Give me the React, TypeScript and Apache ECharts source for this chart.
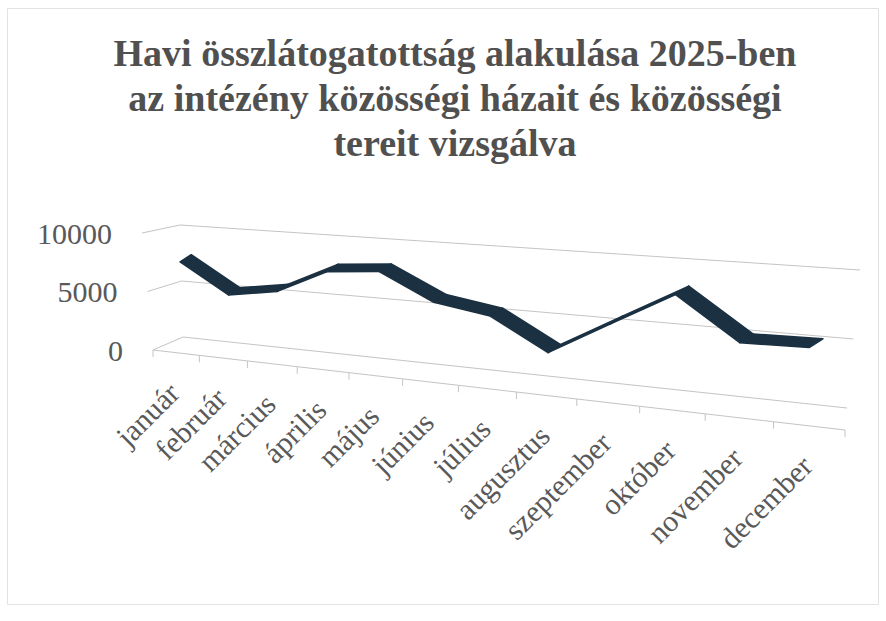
import React, { useEffect, useRef } from "react";
import * as echarts from "echarts";

// ---- data ----
const months = [
  "január", "február", "március", "április", "május", "június",
  "július", "augusztus", "szeptember", "október", "november", "december",
];
const visitors = [7600, 5100, 5750, 7750, 8100, 6000, 5300, 2900, 5500, 8100, 5000, 5100];
const valueTicks = [0, 5000, 10000];
const valueMax = 10000;
const titleLines = [
  "Havi összlátogatottság alakulása 2025-ben",
  "az intézény közösségi házait és közösségi",
  "tereit vizsgálva",
];

// ---- layout of the 3D box on the page (value=0 / value=max) ----
const box = {
  frontLeft: [[153, 350], [142, 233]],
  backLeft: [[183, 337], [180, 225]],
  frontRight: [[845, 430], [855, 283]],
  backRight: [[847, 408], [860, 270]],
};
const depthRatio = 0.79; // far (left) / near (right) distance ratio
const ribbonDepth = [11, -7];
const ribbonColor = "#1b3142";
const gridColor = "#c4c4c4";
const labelColor = "#595959";
const serif = "'Liberation Serif', 'Times New Roman', serif";

type P = number[];
const lerp = (a: P, b: P, k: number): P => [a[0] + (b[0] - a[0]) * k, a[1] + (b[1] - a[1]) * k];
const persp = (t: number) => (t * depthRatio) / (1 - t + t * depthRatio);
const scaleAt = (t: number) => 1 / (1 - t + t * depthRatio);
function project(t: number, w: number, d: number): P {
  const L = lerp(lerp(box.frontLeft[0], box.frontLeft[1], w), lerp(box.backLeft[0], box.backLeft[1], w), d);
  const R = lerp(lerp(box.frontRight[0], box.frontRight[1], w), lerp(box.backRight[0], box.backRight[1], w), d);
  return lerp(L, R, persp(t));
}
function norm(params: any, api: any, u: number, v: number): P {
  const p = api.coord([u, v]);
  const cs = params.coordSys;
  return [(p[0] - cs.x) / cs.width, (cs.y + cs.height - p[1]) / cs.height];
}

export default function App() {
  const ref = useRef<HTMLDivElement>(null);
  useEffect(() => {
    if (!ref.current) return;
    const chart = echarts.init(ref.current, undefined, { renderer: "svg" });
    const n = months.length;
    const boundaries = Array.from({ length: n + 1 }, (_, k) => [k, 0]);
    const segments = visitors.slice(0, -1).map((v, i) => [i + 0.5, v, i + 1.5, visitors[i + 1]]);
    const labelData = months.map((_, i) => [i + 0.5, 0]);

    chart.setOption({
      animation: false,
      backgroundColor: "#ffffff",
      title: {
        text: titleLines.join("\n"),
        left: 450,
        top: 25,
        textAlign: "center",
        textStyle: {
          fontFamily: serif,
          fontWeight: "bold",
          fontSize: 38,
          lineHeight: 45,
          color: "#505050",
        },
      },
      graphic: [
        {
          type: "rect",
          shape: { x: 7.5, y: 8.5, width: 871, height: 596 },
          style: { fill: "none", stroke: "#e2e2e2", lineWidth: 1 },
          silent: true,
        },
      ],
      grid: { left: 140, top: 220, width: 720, height: 210, show: false },
      xAxis: { type: "value", min: 0, max: n, show: false },
      yAxis: { type: "value", min: 0, max: valueMax, interval: 5000, show: false },
      series: [
        {
          type: "custom",
          name: "walls",
          z: 1,
          data: valueTicks.map((v) => [0, v]),
          renderItem: (params: any, api: any) => {
            const [, w] = norm(params, api, api.value(0), api.value(1));
            const fl = project(0, w, 0);
            const bl = project(0, w, 1);
            const br = project(1, w, 1);
            return {
              type: "group",
              children: [
                {
                  type: "polyline",
                  shape: { points: [fl, bl, br] },
                  style: { stroke: gridColor, lineWidth: 1, fill: "none" },
                },
                {
                  type: "text",
                  x: fl[0] - 30,
                  y: fl[1],
                  style: {
                    text: String(api.value(1)),
                    align: "right",
                    verticalAlign: "middle",
                    fontFamily: serif,
                    fontSize: 30,
                    fill: labelColor,
                  },
                },
              ],
            };
          },
        },
        {
          type: "custom",
          name: "floor",
          z: 1,
          data: boundaries,
          renderItem: (params: any, api: any) => {
            const k = api.value(0);
            const [t] = norm(params, api, k, 0);
            const p = project(t, 0, 0);
            const children: any[] = [
              { type: "line", shape: { x1: p[0], y1: p[1], x2: p[0], y2: p[1] + 7 }, style: { stroke: gridColor, lineWidth: 1 } },
            ];
            if (k < n) {
              const [t2] = norm(params, api, k + 1, 0);
              const q = project(t2, 0, 0);
              children.push({ type: "line", shape: { x1: p[0], y1: p[1], x2: q[0], y2: q[1] }, style: { stroke: gridColor, lineWidth: 1 } });
            }
            return { type: "group", children };
          },
        },
        {
          type: "custom",
          name: "Látogatók",
          z: 3,
          data: segments,
          encode: { x: [0, 2], y: [1, 3] },
          renderItem: (params: any, api: any) => {
            const [t1, w1] = norm(params, api, api.value(0), api.value(1));
            const [t2, w2] = norm(params, api, api.value(2), api.value(3));
            const c1 = project(t1, w1, 0.5);
            const c2 = project(t2, w2, 0.5);
            const s1 = scaleAt(t1) / 2;
            const s2 = scaleAt(t2) / 2;
            const d1 = [ribbonDepth[0] * s1, ribbonDepth[1] * s1];
            const d2 = [ribbonDepth[0] * s2, ribbonDepth[1] * s2];
            return {
              type: "polygon",
              shape: {
                points: [
                  [c1[0] - d1[0], c1[1] - d1[1]],
                  [c2[0] - d2[0], c2[1] - d2[1]],
                  [c2[0] + d2[0], c2[1] + d2[1]],
                  [c1[0] + d1[0], c1[1] + d1[1]],
                ],
              },
              style: { fill: ribbonColor, stroke: ribbonColor, lineWidth: 1.6, lineJoin: "round" },
            };
          },
        },
        {
          type: "custom",
          name: "labels",
          z: 2,
          data: labelData,
          renderItem: (params: any, api: any) => {
            const [t] = norm(params, api, api.value(0), 0);
            const p = project(t, 0, 0);
            return {
              type: "text",
              x: p[0] - 2,
              y: p[1] + 35,
              rotation: (45 * Math.PI) / 180,
              style: {
                text: months[params.dataIndex],
                align: "right",
                verticalAlign: "middle",
                fontFamily: serif,
                fontSize: 30,
                fill: labelColor,
              },
            };
          },
        },
      ],
    });
    return () => chart.dispose();
  }, []);
  return (
    <div
      ref={ref}
      style={{ position: "absolute", left: 0, top: 0, width: 886, height: 621 }}
    />
  );
}
